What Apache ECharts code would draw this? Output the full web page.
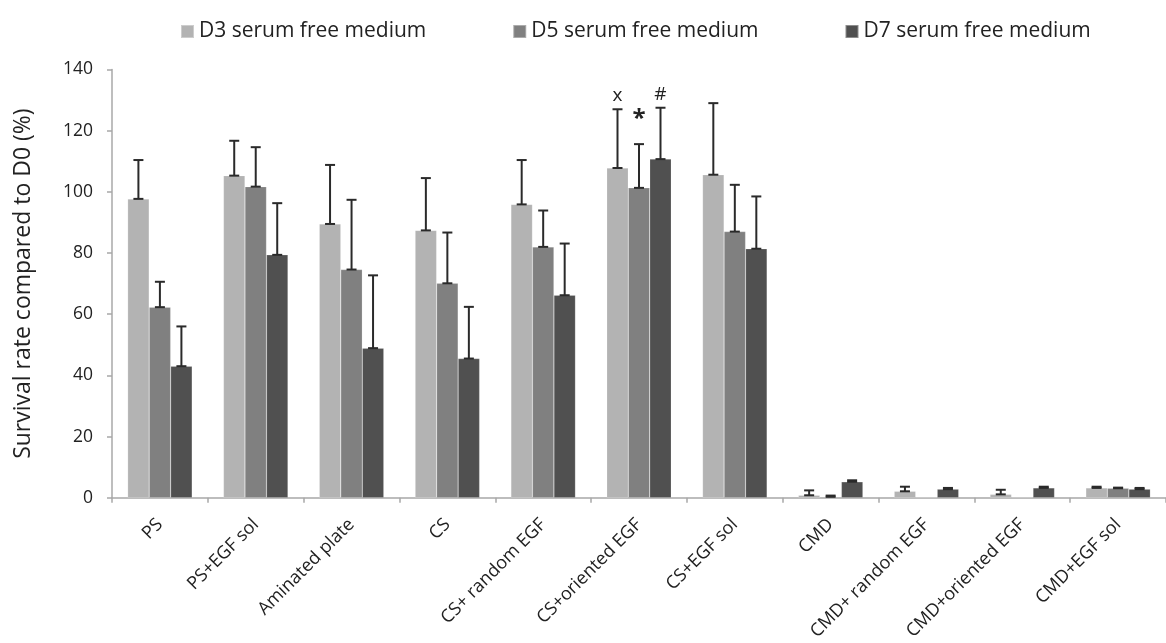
<!DOCTYPE html>
<html>
<head>
<meta charset="utf-8">
<script src="https://cdn.jsdelivr.net/npm/echarts@6/dist/echarts.min.js"></script>
<style>
html,body{margin:0;padding:0;background:#fff;}
#chart{width:1166px;height:643px;}
</style>
</head>
<body>
<div id="chart"></div>
<script>
const categories = ['PS','PS+EGF sol','Aminated plate','CS','CS+ random EGF','CS+oriented EGF','CS+EGF sol','CMD','CMD+ random EGF','CMD+oriented EGF','CMD+EGF sol'];
const seriesNames = ['D3 serum free medium','D5 serum free medium','D7 serum free medium'];
const d3Values = [97.7, 105.3, 89.5, 87.4, 95.9, 107.8, 105.6, 0.8, 2.1, 1.1, 3.2];
const d3Errors = [12.7, 11.4, 19.3, 17.1, 14.5, 19.2, 23.4, 1.6, 1.5, 1.5, 0.4];
const d5Values = [62.3, 101.7, 74.6, 70.1, 82.0, 101.3, 87.0, 0.3, 0.2, 0.2, 3.1];
const d5Errors = [8.3, 12.9, 22.8, 16.6, 11.9, 14.3, 15.3, 0.4, 0, 0, 0.2];
const d7Values = [43.0, 79.4, 48.9, 45.5, 66.2, 110.7, 81.4, 5.2, 2.8, 3.2, 2.8];
const d7Errors = [13.0, 16.9, 23.8, 16.9, 16.9, 16.8, 17.1, 0.5, 0.4, 0.4, 0.4];
const d3Marks = ['', '', '', '', '', 'x', '', '', '', '', ''];
const d5Marks = ['', '', '', '', '', '*', '', '', '', '', ''];
const d7Marks = ['', '', '', '', '', '#', '', '', '', '', ''];
const yTicks = {min: 0, max: 140, interval: 20};

const colors = ['#b3b3b3', '#808080', '#505050'];
const BAR_W = 21.5;
const FONT = 'Open Sans';

const values = [d3Values, d5Values, d7Values];
const errors = [d3Errors, d5Errors, d7Errors];
const marks = [d3Marks, d5Marks, d7Marks];

const barSeries = seriesNames.map((name, i) => ({
  name: name,
  type: 'bar',
  data: values[i],
  barWidth: BAR_W,
  barGap: '0%',
  itemStyle: {color: colors[i], borderColor: 'rgba(255,255,255,0.35)', borderWidth: 0.5},
  emphasis: {disabled: true},
  z: 2
}));

const errSeries = seriesNames.map((name, i) => ({
  type: 'custom',
  name: name + ' error',
  z: 5,
  silent: true,
  data: categories.map((c, k) => [k, values[i][k], errors[i][k], k]),
  renderItem: function (params, api) {
    const k = api.value(0);
    const v = api.value(1);
    const e = api.value(2);
    const offset = (i - 1) * BAR_W;
    const x = api.coord([k, 0])[0] + offset;
    const yBase = api.coord([k, v])[1];
    const yTop = api.coord([k, v + e])[1];
    const children = [];
    const st = {stroke: '#2a2a2a', lineWidth: 2};
    if (e > 0) {
      children.push({type: 'line', shape: {x1: x, y1: yBase, x2: x, y2: yTop}, style: st});
      children.push({type: 'line', shape: {x1: x - 5, y1: yTop, x2: x + 5, y2: yTop}, style: st});
      children.push({type: 'line', shape: {x1: x - 5, y1: yBase, x2: x + 5, y2: yBase}, style: st});
    }
    const m = marks[i][api.value(3)];
    if (m) {
      const isStar = m === '*';
      children.push({
        type: 'text',
        style: {
          text: m,
          x: x,
          y: yTop - (isStar ? 13 : 4),
          align: 'center',
          verticalAlign: 'bottom',
          fill: '#222',
          font: (isStar ? 'bold 24px ' : '19px ') + FONT
        }
      });
    }
    return {type: 'group', children: children};
  }
}));

const chart = echarts.init(document.getElementById('chart'));
chart.setOption({
  animation: false,
  backgroundColor: '#fff',
  textStyle: {fontFamily: FONT},
  legend: {
    data: seriesNames,
    left: 175,
    top: 16,
    itemWidth: 13,
    itemHeight: 13,
    itemGap: 86,
    icon: 'rect',
    textStyle: {fontSize: 21, color: '#222', fontFamily: FONT}
  },
  grid: {left: 112, top: 69.5, width: 1066, height: 430.5, containLabel: false},
  xAxis: {
    type: 'category',
    data: categories,
    axisLine: {lineStyle: {color: '#a8a8a8', width: 1.5}},
    axisTick: {show: true, length: 5, lineStyle: {color: '#a8a8a8', width: 1.5}},
    axisLabel: {rotate: 45, margin: 24, fontSize: 18, color: '#222', fontFamily: FONT, interval: 0}
  },
  yAxis: {
    type: 'value',
    min: yTicks.min,
    max: yTicks.max,
    interval: yTicks.interval,
    name: 'Survival rate compared to D0 (%)',
    nameLocation: 'middle',
    nameRotate: 90,
    nameGap: 77,
    nameTextStyle: {fontSize: 23, color: '#222', fontFamily: FONT},
    axisLine: {show: true, lineStyle: {color: '#a8a8a8', width: 1.5}},
    axisTick: {show: true, length: 5, lineStyle: {color: '#a8a8a8', width: 1.5}},
    splitLine: {show: false},
    axisLabel: {fontSize: 17.5, margin: 19, color: '#222', fontFamily: FONT}
  },
  series: barSeries.concat(errSeries)
});
</script>
</body>
</html>
